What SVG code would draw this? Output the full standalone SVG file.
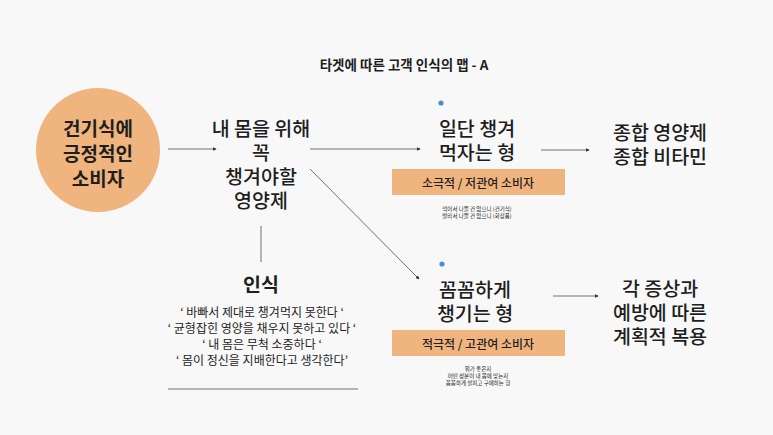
<svg xmlns="http://www.w3.org/2000/svg" width="773" height="435" viewBox="0 0 773 435">
<defs>
<marker id="ah" viewBox="0 0 6 6" refX="5" refY="3" markerWidth="4" markerHeight="4" orient="auto" markerUnits="userSpaceOnUse">
<path d="M0,0 L6,3 L0,6 z" fill="#333"/>
</marker>
</defs>
<style>
text{font-family:"Noto Sans CJK KR","Noto Sans",sans-serif;fill:#1e1e1e;text-anchor:middle;dominant-baseline:central}
.big{font-size:19.5px;font-weight:500}
.circ{font-size:19px;font-weight:700}
.box{fill:#f0b47e}
.bt{font-size:12px;font-weight:500}
.sm{font-size:5.5px}
.q{font-size:12px}
.ln{stroke:#707070;stroke-width:1;fill:none}
.dot{fill:#4a8fd0}
</style>
<rect width="773" height="435" fill="#f8f8f8"/>
<text x="404" y="64" style="font-size:13.5px;font-weight:700">타겟에 따른 고객 인식의 맵 - A</text>

<g id="connectors">
<line class="ln" x1="168" y1="149" x2="216" y2="149" marker-end="url(#ah)"/>
<line class="ln" x1="310" y1="149" x2="420" y2="149" marker-end="url(#ah)"/>
<line class="ln" x1="310" y1="169" x2="419" y2="279" marker-end="url(#ah)"/>
<line class="ln" x1="541" y1="150" x2="589" y2="150" marker-end="url(#ah)"/>
<line class="ln" x1="553" y1="296" x2="598" y2="296" marker-end="url(#ah)"/>
<line class="ln" x1="261" y1="226" x2="261" y2="262"/>
<line class="ln" x1="168" y1="389" x2="358" y2="389"/>
</g>

<g id="consumer">
<circle cx="98" cy="150" r="62" fill="#f0b47e"/>
<text class="circ" x="98" y="127">건기식에</text>
<text class="circ" x="98" y="152">긍정적인</text>
<text class="circ" x="98" y="177">소비자</text>
</g>

<g id="need">
<text class="big" x="261" y="127">내 몸을 위해</text>
<text class="big" x="261" y="151">꼭</text>
<text class="big" x="261" y="175">챙겨야할</text>
<text class="big" x="261" y="199">영양제</text>
</g>

<g id="perception">
<text x="261" y="283" style="font-size:19.5px;font-weight:700">인식</text>
<text class="q" x="262" y="311">‘ 바빠서 제대로 챙겨먹지 못한다 ‘</text>
<text class="q" x="262" y="327">‘ 균형잡힌 영양을 채우지 못하고 있다 ‘</text>
<text class="q" x="262" y="343">‘ 내 몸은 무척 소중하다 ‘</text>
<text class="q" x="262" y="359">‘ 몸이 정신을 지배한다고 생각한다’</text>
</g>

<g id="type-a">
<circle class="dot" cx="441" cy="103" r="2.6"/>
<text class="big" x="477" y="127">일단 챙겨</text>
<text class="big" x="477" y="151">먹자는 형</text>
<rect class="box" x="392" y="169" width="173" height="26"/>
<text class="bt" x="478" y="182">소극적 / 저관여 소비자</text>
<text class="sm" x="477" y="209">먹어서 나쁠 건 없으니 (건기식)</text>
<text class="sm" x="477" y="216">발라서 나쁠 건 없으니 (화장품)</text>
</g>

<g id="type-b">
<circle class="dot" cx="442" cy="264" r="2.6"/>
<text class="big" x="475" y="288">꼼꼼하게</text>
<text class="big" x="475" y="312">챙기는 형</text>
<rect class="box" x="392" y="330" width="173" height="26"/>
<text class="bt" x="478" y="343">적극적 / 고관여 소비자</text>
<text class="sm" x="478" y="369">뭐가 좋은지</text>
<text class="sm" x="478" y="376">어떤 성분이 내 몸에 맞는지</text>
<text class="sm" x="478" y="383">꼼꼼하게 살피고 구매하는 형</text>
</g>

<g id="result-a">
<text class="big" x="660" y="131">종합 영양제</text>
<text class="big" x="660" y="155">종합 비타민</text>
</g>

<g id="result-b">
<text class="big" x="660" y="287">각 증상과</text>
<text class="big" x="660" y="311">예방에 따른</text>
<text class="big" x="660" y="335">계획적 복용</text>
</g>
</svg>
